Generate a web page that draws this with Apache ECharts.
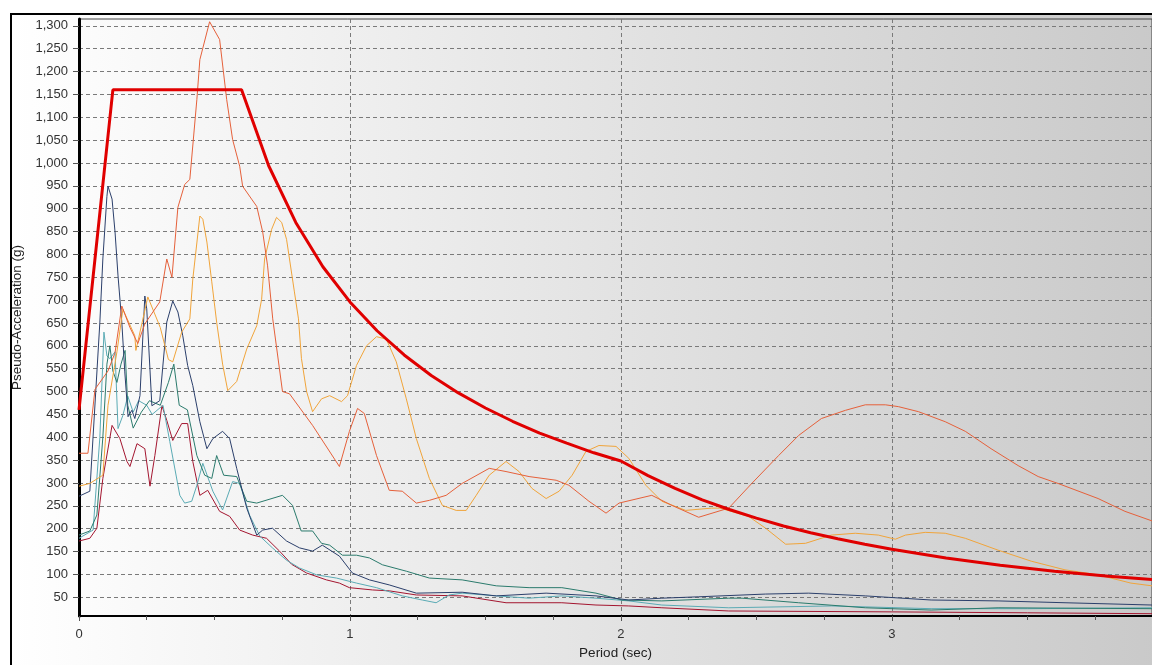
<!DOCTYPE html>
<html>
<head>
<meta charset="utf-8">
<script src="https://cdn.jsdelivr.net/npm/echarts@6/dist/echarts.min.js"></script>
<style>
html,body{margin:0;padding:0;background:#ffffff;}
#chart{width:1152px;height:665px;}
</style>
</head>
<body>
<div id="chart"></div>
<script>
// ---- tick labels ----
const yTickValues = [50,100,150,200,250,300,350,400,450,500,550,600,650,700,750,800,850,900,950,1000,1050,1100,1150,1200,1250,1300];
const xAxisTitle = 'Period (sec)';
const yAxisTitle = 'Pseudo-Acceleration (g)';

// ---- series values: [period (sec), pseudo-acceleration] ----
const designSpectrum = [[0,460],[0.125,1160],[0.6,1160],[0.7,994],[0.8,870],[0.9,773],[1.0,696],[1.1,633],[1.2,580],[1.3,535],[1.4,497],[1.5,464],[1.6,435],[1.7,409],[1.8,387],[1.9,366],[2.0,348],[2.1,316],[2.2,288],[2.3,263],[2.4,242],[2.5,223],[2.6,206],[2.7,191],[2.8,178],[2.9,166],[3.0,155],[3.2,136],[3.4,120],[3.6,107],[3.8,96],[3.96,89]];

const recordA = [[0,365],[0.033,365],[0.059,505],[0.107,545],[0.133,585],[0.158,687],[0.188,640],[0.217,605],[0.243,648],[0.298,696],[0.324,790],[0.343,750],[0.365,903],[0.39,953],[0.409,964],[0.435,1139],[0.446,1226],[0.482,1309],[0.519,1270],[0.545,1139],[0.567,1051],[0.593,993],[0.604,949],[0.637,921],[0.656,905],[0.678,849],[0.696,775],[0.715,659],[0.751,500],[0.777,495],[0.862,426],[0.961,336],[0.998,413],[1.028,463],[1.053,452],[1.098,360],[1.145,284],[1.193,282],[1.245,256],[1.293,262],[1.355,273],[1.414,299],[1.514,332],[1.576,325],[1.661,314],[1.761,306],[1.808,295],[1.882,260],[1.945,234],[1.993,256],[2.114,273],[2.188,251],[2.287,225],[2.398,245],[2.483,299],[2.582,360],[2.656,404],[2.74,441],[2.829,459],[2.902,471],[2.976,471],[3.024,467],[3.098,456],[3.197,434],[3.271,413],[3.366,375],[3.466,338],[3.54,314],[3.613,299],[3.761,266],[3.86,238],[3.96,217]];

const recordB = [[0,293],[0.04,299],[0.088,317],[0.107,470],[0.14,587],[0.162,680],[0.206,622],[0.21,590],[0.254,707],[0.3,640],[0.33,570],[0.346,565],[0.379,630],[0.409,659],[0.42,746],[0.446,884],[0.457,877],[0.472,827],[0.49,740],[0.508,652],[0.53,560],[0.549,502],[0.582,522],[0.619,593],[0.656,644],[0.674,702],[0.685,790],[0.711,855],[0.729,881],[0.748,870],[0.766,833],[0.795,718],[0.81,659],[0.821,572],[0.84,500],[0.862,456],[0.895,484],[0.925,491],[0.969,478],[0.991,491],[1.024,557],[1.061,600],[1.098,620],[1.134,615],[1.171,565],[1.208,484],[1.245,397],[1.293,310],[1.341,251],[1.392,240],[1.429,240],[1.466,273],[1.514,317],[1.576,347],[1.624,325],[1.672,288],[1.724,266],[1.772,282],[1.82,317],[1.871,369],[1.919,382],[1.982,380],[2.029,354],[2.092,295],[2.151,260],[2.239,240],[2.335,245],[2.365,245],[2.471,227],[2.534,201],[2.608,166],[2.681,168],[2.777,186],[2.865,190],[2.95,186],[3.013,177],[3.05,186],[3.123,192],[3.197,190],[3.271,179],[3.392,153],[3.514,129],[3.639,110],[3.761,99],[3.882,81],[3.96,75]];

const recordC = [[0,271],[0.04,282],[0.077,652],[0.088,790],[0.103,927],[0.107,949],[0.122,921],[0.133,849],[0.144,753],[0.158,652],[0.169,543],[0.181,445],[0.195,459],[0.206,441],[0.225,491],[0.243,709],[0.25,681],[0.269,469],[0.298,480],[0.324,652],[0.346,698],[0.365,674],[0.383,622],[0.401,557],[0.42,513],[0.446,434],[0.472,375],[0.494,397],[0.53,413],[0.556,397],[0.582,332],[0.619,245],[0.656,186],[0.678,197],[0.714,201],[0.766,173],[0.814,158],[0.862,151],[0.898,164],[0.961,140],[1.009,103],[1.072,88],[1.145,77],[1.245,59],[1.414,61],[1.54,53],[1.724,59],[1.908,53],[2.029,44],[2.151,48],[2.287,51],[2.534,57],[2.693,59],[2.902,53],[3.145,44],[3.392,42],[3.639,38],[3.96,33]];

const recordD = [[0,186],[0.04,195],[0.066,230],[0.088,400],[0.103,560],[0.114,600],[0.125,545],[0.14,520],[0.155,560],[0.17,590],[0.18,470],[0.2,420],[0.23,455],[0.26,480],[0.3,470],[0.33,520],[0.35,560],[0.37,470],[0.4,460],[0.435,360],[0.464,317],[0.49,310],[0.508,360],[0.534,317],[0.582,314],[0.619,260],[0.656,256],[0.751,273],[0.788,251],[0.82,195],[0.862,195],[0.895,168],[0.925,164],[0.972,142],[1.024,142],[1.072,136],[1.12,121],[1.208,107],[1.293,92],[1.414,88],[1.54,75],[1.661,71],[1.782,71],[1.908,59],[2.004,44],[2.151,42],[2.398,48],[2.447,48],[2.656,38],[2.902,27],[3.145,22],[3.392,27],[3.96,25]];

const recordE = [[0,179],[0.052,197],[0.077,400],[0.092,630],[0.103,578],[0.114,572],[0.133,587],[0.144,419],[0.162,448],[0.18,490],[0.2,455],[0.22,480],[0.25,470],[0.27,450],[0.31,470],[0.335,391],[0.372,273],[0.39,256],[0.416,260],[0.435,295],[0.457,343],[0.494,282],[0.53,241],[0.567,303],[0.593,299],[0.63,229],[0.667,184],[0.714,158],[0.766,131],[0.814,114],[0.877,99],[0.95,92],[1.024,81],[1.098,71],[1.193,53],[1.267,44],[1.318,38],[1.366,55],[1.414,59],[1.54,53],[1.661,48],[1.782,53],[1.908,48],[2.029,42],[2.151,33],[2.398,27],[2.777,31],[3.145,25],[3.5,25],[3.96,27]];

const recordF = [[0,173],[0.04,179],[0.066,201],[0.088,310],[0.122,426],[0.151,397],[0.177,347],[0.188,336],[0.214,386],[0.243,375],[0.262,293],[0.28,360],[0.306,469],[0.324,437],[0.346,393],[0.379,430],[0.401,430],[0.42,347],[0.446,273],[0.475,284],[0.519,238],[0.556,227],[0.593,197],[0.641,186],[0.692,179],[0.74,151],[0.785,122],[0.84,103],[0.913,88],[0.961,81],[0.998,71],[1.083,66],[1.145,64],[1.245,55],[1.414,53],[1.576,38],[1.782,38],[1.908,33],[2.029,31],[2.151,27],[2.398,20],[3.0,18],[3.5,16],[3.96,14]];

const chart = echarts.init(document.getElementById('chart'), null, {renderer:'canvas'});
const font = 'Liberation Sans';
function thin(data, color){
  return {type:'line', data:data, showSymbol:false, symbol:'none', smooth:false,
    lineStyle:{color:color, width:1}, itemStyle:{color:color}, z:2};
}
chart.setOption({
  animation:false,
  textStyle:{fontFamily:font},
  graphic:[
    {type:'rect', z:-10, silent:true,
     shape:{x:11,y:14,width:1300,height:800},
     style:{fill:new echarts.graphic.LinearGradient(0,0,1,0,[{offset:0,color:'#ffffff'},{offset:1,color:'#c2c2c2'}]), stroke:'#000000', lineWidth:2}}
  ],
  grid:{left:79, top:19, right:-3, bottom:47, show:true, backgroundColor:'transparent', borderColor:'#444444', borderWidth:1},
  xAxis:{
    type:'value', min:0, max:3.96, interval:1,
    name:xAxisTitle, nameLocation:'middle', nameGap:30,
    nameTextStyle:{fontFamily:font, fontSize:13.5, color:'#222'},
    axisLine:{show:true, onZero:false, lineStyle:{color:'#000', width:2}},
    axisTick:{show:true, length:5, lineStyle:{color:'#555'}},
    minorTick:{show:true, splitNumber:4, length:4, lineStyle:{color:'#555'}},
    axisLabel:{fontFamily:font, fontSize:13, color:'#333', margin:12, showMaxLabel:false},
    splitLine:{show:true, lineStyle:{color:'#7a7a7a', type:[4,3], width:1}},
    minorSplitLine:{show:false}
  },
  yAxis:{
    type:'value', min:9, max:1315,
    name:yAxisTitle, nameLocation:'middle', nameGap:52, nameRotate:90,
    nameTextStyle:{fontFamily:font, fontSize:13.5, color:'#222'},
    axisLine:{show:true, onZero:false, lineStyle:{color:'#000', width:3}},
    axisTick:{show:true, length:6, customValues:yTickValues, lineStyle:{color:'#555'}},
    axisLabel:{fontFamily:font, fontSize:13, color:'#333', margin:11, customValues:yTickValues,
      formatter:function(v){return Number(v).toLocaleString('en-US');}},
    splitLine:{show:true, lineStyle:{color:'#7a7a7a', type:[4,3], width:1}}
  },
  series:[
    thin(recordF,'#a3152f'),
    thin(recordE,'#5aaab4'),
    thin(recordD,'#2a7a6c'),
    thin(recordC,'#2b3f6b'),
    thin(recordB,'#f0a43a'),
    thin(recordA,'#e5603a'),
    {type:'line', data:designSpectrum, showSymbol:false, symbol:'none', smooth:false,
     lineStyle:{color:'#e00000', width:3}, itemStyle:{color:'#e00000'}, z:3}
  ]
});
</script>
</body>
</html>
